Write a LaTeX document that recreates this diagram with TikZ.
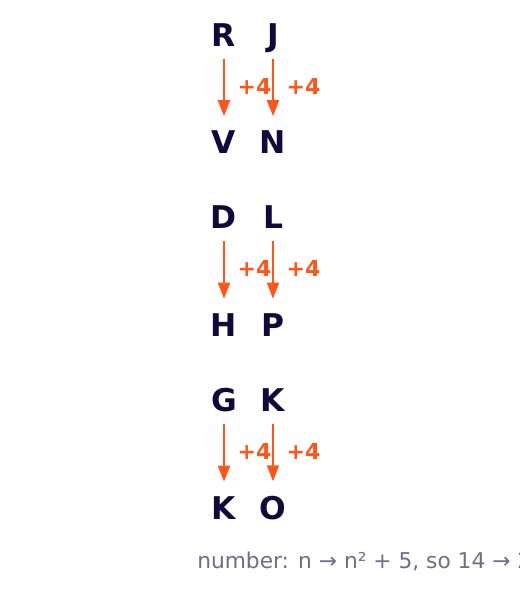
\documentclass[tikz,border=0pt]{standalone}
\usepackage{fontspec}
\setmainfont{DejaVu Sans}
\usetikzlibrary{arrows.meta}
\definecolor{ink}{HTML}{0F0A3C}
\definecolor{shift}{HTML}{FF5719}
\definecolor{note}{HTML}{6E6E8A}

\begin{document}
\begin{tikzpicture}[x=0.75pt,y=-0.75pt,>={Triangle[length=12pt,width=9pt]},
    letter/.style={anchor=base,inner sep=0pt,text=ink,font=\fontsize{23.5}{28}\selectfont\bfseries},
    plus/.style={midway,right=9.5pt,yshift=1.5pt,inner sep=0pt,text=shift,font=\fontsize{16.5}{19}\selectfont\bfseries},
    step arrow/.style={->,draw=shift,line width=1.5pt,shorten <=9pt,shorten >=11pt}]
    \useasboundingbox (0,0) rectangle (520,595);
    % first pair
    \node[letter] (r) at (224,47) {R};
    \node[letter] (j) at (273,47) {J};
    \node[letter] (v) at (224,154) {V};
    \node[letter] (n) at (273,154) {N};
    \draw[step arrow] (r.base) -- (v.north) node[plus]{+4};
    \draw[step arrow] (j.base) -- (n.north) node[plus]{+4};
    % second pair
    \node[letter] (d) at (224,228.5) {D};
    \node[letter] (l) at (273,228.5) {L};
    \node[letter] (h) at (224,336.5) {H};
    \node[letter] (p) at (273,336.5) {P};
    \draw[step arrow] (d.base) -- (h.north) node[plus]{+4};
    \draw[step arrow] (l.base) -- (p.north) node[plus]{+4};
    % third pair
    \node[letter] (g) at (224,411.5) {G};
    \node[letter] (k) at (273,411.5) {K};
    \node[letter] (k2) at (224,519.5) {K};
    \node[letter] (o) at (273,519.5) {O};
    \draw[step arrow] (g.base) -- (k2.north) node[plus]{+4};
    \draw[step arrow] (k.base) -- (o.north) node[plus]{+4};
    \node[anchor=base west,inner sep=0pt,text=note,font=\fontsize{16.3}{19}\selectfont] (rule) at (197,568)
    {number: n → n² + 5, so 14 → 201};
\end{tikzpicture}
\end{document}
